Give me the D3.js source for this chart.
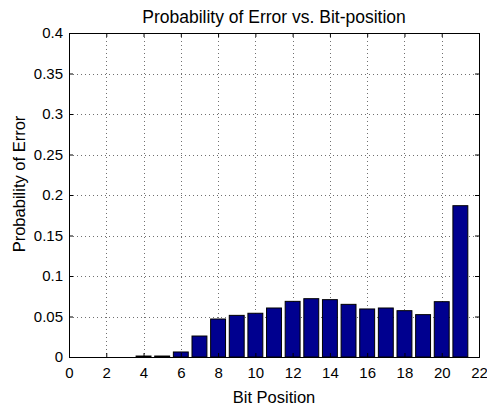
<!DOCTYPE html>
<html>
<head>
<meta charset="utf-8">
<script src="https://cdn.jsdelivr.net/npm/d3@7"></script>
<style>
  body { margin: 0; background: #fff; }
  text { font-family: "Liberation Sans", Arial, sans-serif; fill: #000; }
</style>
</head>
<body>
<svg width="487" height="406"></svg>
<script>
// bit positions and error probability per bit
var bits = [1, 2, 3, 4, 5, 6, 7, 8, 9, 10, 11, 12, 13, 14, 15, 16, 17, 18, 19, 20, 21];
var probs = [0, 0, 0, 0.0012, 0.0012, 0.0062, 0.0259, 0.0469, 0.0514, 0.054, 0.0605,
  0.0687, 0.072, 0.0708, 0.065, 0.0593, 0.0605, 0.0572, 0.0523, 0.0683, 0.1868];
var xTicks = [0, 2, 4, 6, 8, 10, 12, 14, 16, 18, 20, 22];
var yTicks = [0, 0.05, 0.1, 0.15, 0.2, 0.25, 0.3, 0.35, 0.4];

// plot box (note: "top" is taken by window.top)
var pLeft = 69, pRight = 479, pTop = 33, pBottom = 357;

var svg = d3.select('svg');

var x = d3.scaleLinear().domain([0, 22]).range([pLeft, pRight]);
var y = d3.scaleLinear().domain([0, 0.4]).range([pBottom, pTop]);

// grid
var grid = svg.append('g')
  .attr('stroke', '#000')
  .attr('stroke-width', 0.8)
  .attr('stroke-dasharray', '1,3')
  .attr('opacity', 0.7);
grid.selectAll('.vg')
  .data(xTicks.slice(1, -1))
  .enter()
  .append('line')
  .attr('x1', function(d) { return Math.round(x(d)) + 0.5; })
  .attr('x2', function(d) { return Math.round(x(d)) + 0.5; })
  .attr('y1', pTop)
  .attr('y2', pBottom);
grid.selectAll('.hg')
  .data(yTicks.slice(1, -1))
  .enter()
  .append('line')
  .attr('x1', pLeft)
  .attr('x2', pRight)
  .attr('y1', function(d) { return Math.round(y(d)) + 0.5; })
  .attr('y2', function(d) { return Math.round(y(d)) + 0.5; });

// bars
svg.selectAll('.bar')
  .data(bits)
  .enter()
  .append('rect')
  .attr('class', 'bar')
  .attr('x', function(d) { return x(d - 0.4); })
  .attr('width', x(0.8) - x(0))
  .attr('y', function(d, i) { return y(probs[i]); })
  .attr('height', function(d, i) { return y(0) - y(probs[i]); })
  .style('fill', '#00008f')
  .style('stroke', '#000')
  .style('stroke-width', 1);

// axes (ticks inward, box on)
var axB = svg.append('g')
  .attr('transform', 'translate(0,' + pBottom + ')')
  .call(d3.axisBottom(x).tickValues(xTicks).tickSize(-4).tickPadding(10)
    .tickFormat(d3.format('d')));
var axT = svg.append('g')
  .attr('transform', 'translate(0,' + pTop + ')')
  .call(d3.axisTop(x).tickValues(xTicks).tickSize(-4).tickFormat(''));
var axL = svg.append('g')
  .attr('transform', 'translate(' + pLeft + ',0)')
  .call(d3.axisLeft(y).tickValues(yTicks).tickSize(-4).tickPadding(6)
    .tickFormat(function(d) { return String(+d.toFixed(2)); }));
var axR = svg.append('g')
  .attr('transform', 'translate(' + pRight + ',0)')
  .call(d3.axisRight(y).tickValues(yTicks).tickSize(-4).tickFormat(''));

[axB, axT, axL, axR].forEach(function(a) {
  a.selectAll('.domain').attr('stroke', '#000');
  a.selectAll('line').attr('stroke', '#000');
  a.selectAll('text').style('font-size', '15px').attr('fill', '#000');
});

// labels
svg.append('text')
  .attr('x', (pLeft + pRight) / 2)
  .attr('y', 23)
  .attr('text-anchor', 'middle')
  .style('font-size', '17.5px')
  .text('Probability of Error vs. Bit-position');

svg.append('text')
  .attr('x', (pLeft + pRight) / 2)
  .attr('y', 403)
  .attr('text-anchor', 'middle')
  .style('font-size', '16.5px')
  .text('Bit Position');

svg.append('text')
  .attr('transform', 'translate(25,184) rotate(-90)')
  .attr('text-anchor', 'middle')
  .style('font-size', '16.5px')
  .text('Probability of Error');
</script>
</body>
</html>
